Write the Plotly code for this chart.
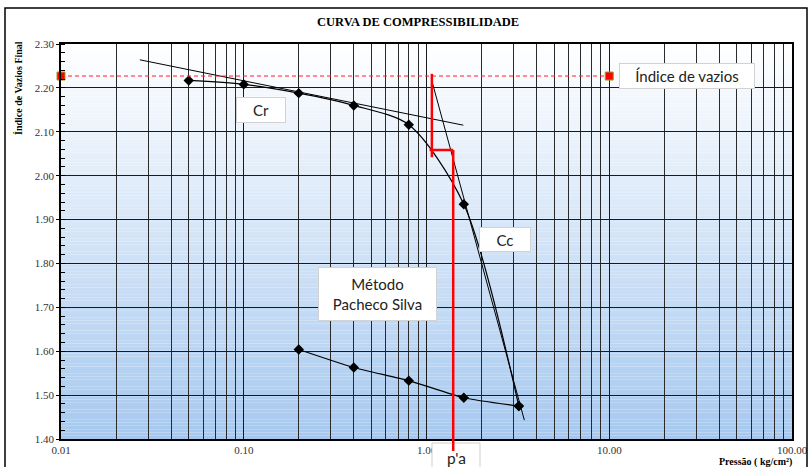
import plotly.graph_objects as go

# Ensaio de adensamento: índice de vazios por estágio de pressão
pressao_carga = [0.05, 0.1, 0.2, 0.4, 0.8, 1.6, 3.2]
e_carga = [2.217, 2.208, 2.188, 2.160, 2.116, 1.935, 1.475]
pressao_descarga = [3.2, 1.6, 0.8, 0.4, 0.2]
e_descarga = [1.475, 1.494, 1.533, 1.563, 1.604]

# Índice de vazios inicial
e0_x = [0.01, 10.0]
e0_y = [2.227, 2.227]

# Retas de Cr e Cc
cr_x = [0.027, 1.59]
cr_e = [2.264, 2.115]
cc_x = [1.07, 3.43]
cc_e = [2.216, 1.443]

# Construção de Pacheco Silva
ps_vert_x = [1.07, 1.07]
ps_vert_e = [2.232, 2.042]
ps_horiz_x = [1.04, 1.40]
ps_horiz_e = [2.0585, 2.0585]
pa_x = 1.40
pa_e = 2.0585

x_ticks = [0.01, 0.1, 1, 10, 100]
x_ticktext = ["0.01", "0.10", "1.00", "10.00", "100.00"]
x_minor = [m * d for d in (0.01, 0.1, 1, 10) for m in range(2, 10)]
y_range = [1.40, 2.30]

W, H = 810, 467
L, R, T, B = 61, 18, 44, 28
pw, ph = W - L - R, H - T - B


def px(xp):
    return (xp - L) / pw


def py(yp):
    return (H - B - yp) / ph


fig = go.Figure()

fig.add_trace(go.Scatter(x=pressao_carga, y=e_carga, mode="lines+markers",
                         line=dict(color="black", width=1.2, shape="spline", smoothing=0.8),
                         marker=dict(symbol="diamond", size=8, color="black")))
fig.add_trace(go.Scatter(x=pressao_descarga, y=e_descarga, mode="lines+markers",
                         line=dict(color="black", width=1.2, shape="spline", smoothing=0.6),
                         marker=dict(symbol="diamond", size=8, color="black")))
fig.add_trace(go.Scatter(x=cr_x, y=cr_e, mode="lines", line=dict(color="black", width=1)))
fig.add_trace(go.Scatter(x=cc_x, y=cc_e, mode="lines", line=dict(color="black", width=1)))
fig.add_trace(go.Scatter(x=e0_x, y=e0_y, mode="lines+markers", cliponaxis=False,
                         line=dict(color="#ff2020", width=1, dash="4px,3px"),
                         marker=dict(symbol="square", size=8, color="#ff0000",
                                     line=dict(color="#9a9a20", width=1))))
fig.add_trace(go.Scatter(x=ps_vert_x, y=ps_vert_e, mode="lines",
                         line=dict(color="#ff0000", width=2.5)))
fig.add_trace(go.Scatter(x=ps_horiz_x, y=ps_horiz_e, mode="lines",
                         line=dict(color="#ff0000", width=2.5)))

shapes = []
# Fundo em degradê (branco no topo, azul claro na base)
n = 120
top_c = (255, 255, 255)
bot_c = (166, 200, 239)
for i in range(n):
    t = (i + 0.5) / n
    c = tuple(round(bot_c[k] + (top_c[k] - bot_c[k]) * t) for k in range(3))
    shapes.append(dict(type="rect", xref="paper", yref="paper", layer="below",
                       x0=0, x1=1, y0=i / n, y1=(i + 1) / n,
                       fillcolor="rgb(%d,%d,%d)" % c, line=dict(width=0)))

# Moldura externa
shapes.append(dict(type="rect", xref="paper", yref="paper", layer="above",
                   x0=px(5), x1=px(807), y0=py(8), y1=py(480),
                   line=dict(color="black", width=1.5), fillcolor="rgba(0,0,0,0)"))
# Caixa do rótulo p'a
shapes.append(dict(type="rect", xref="paper", yref="paper", layer="above",
                   x0=px(432), x1=px(480), y0=py(443), y1=py(472),
                   line=dict(color="#cfcfcf", width=1), fillcolor="white"))
# Vertical de p'a, prolongada abaixo do eixo
shapes.append(dict(type="line", xref="x", yref="paper", layer="above",
                   x0=pa_x, x1=pa_x,
                   y0=(pa_e - y_range[0]) / (y_range[1] - y_range[0]), y1=py(451),
                   line=dict(color="#ff0000", width=2.5)))

box_font = dict(family="Lato, Calibri, sans-serif", size=15, color="#222")


def caixa(texto, x0, x1, y0, y1):
    return dict(xref="paper", yref="paper", x=px((x0 + x1) / 2), y=py((y0 + y1) / 2),
                xanchor="center", yanchor="middle", showarrow=False, text=texto,
                font=box_font, bgcolor="white", bordercolor="#d2d2d2", borderwidth=1,
                borderpad=0, width=x1 - x0 - 2, height=y1 - y0 - 2)


annotations = [
    caixa("Cr", 236, 286, 97, 123),
    caixa("Índice de vazios", 619, 755, 63, 89),
    caixa("Cc", 479, 531, 227, 252),
    caixa("Método<br>Pacheco Silva", 318, 437, 267, 321),
    dict(xref="paper", yref="paper", x=px(456), y=py(458), xanchor="center", yanchor="middle",
         showarrow=False, text="p'a",
         font=dict(family="Lato, Calibri, sans-serif", size=15.5, color="#222")),
    dict(xref="paper", yref="paper", x=px(18), y=py(88), xanchor="center", yanchor="middle",
         showarrow=False, textangle=-90, text="<b>Índice de Vazios Final</b>",
         font=dict(family="Liberation Serif, serif", size=10, color="black")),
    dict(xref="paper", yref="paper", x=px(794), y=py(462), xanchor="right", yanchor="middle",
         showarrow=False, text="<b>Pressão ( kg/cm²)</b>",
         font=dict(family="Liberation Serif, serif", size=10, color="black")),
    dict(xref="paper", yref="paper", x=px(418), y=py(22), xanchor="center", yanchor="middle",
         showarrow=False, text="<b>CURVA DE COMPRESSIBILIDADE</b>",
         font=dict(family="Liberation Serif, serif", size=12.5, color="black")),
]

tick_font = dict(family="Liberation Serif, serif", size=11, color="#333")

fig.update_layout(
    width=W, height=H, margin=dict(l=L, r=R, t=T, b=B),
    paper_bgcolor="white", plot_bgcolor="white", showlegend=False,
    shapes=shapes, annotations=annotations,
    xaxis=dict(type="log", range=[-2, 2], tickmode="array", tickvals=x_ticks,
               ticktext=x_ticktext, tickfont=tick_font, showgrid=True, automargin=False,
               gridcolor="#1a1a1a", gridwidth=1, showline=True, linecolor="black",
               linewidth=1.5, mirror=True, ticks="", zeroline=False,
               minor=dict(tickvals=x_minor, showgrid=True, gridcolor="#2a2a2a",
                          gridwidth=1, ticks="")),
    yaxis=dict(range=y_range, dtick=0.1, tick0=1.4, tickformat=".2f", tickfont=tick_font,
               showgrid=True, gridcolor="#1a1a1a", gridwidth=1, showline=True,
               automargin=False,
               linecolor="black", linewidth=1.5, mirror=True, ticks="outside",
               ticklen=3, tickcolor="black", zeroline=False,
               minor=dict(dtick=0.02, ticks="inside", ticklen=4, tickcolor="black",
                          showgrid=False)),
)

fig.write_html("out.html")
